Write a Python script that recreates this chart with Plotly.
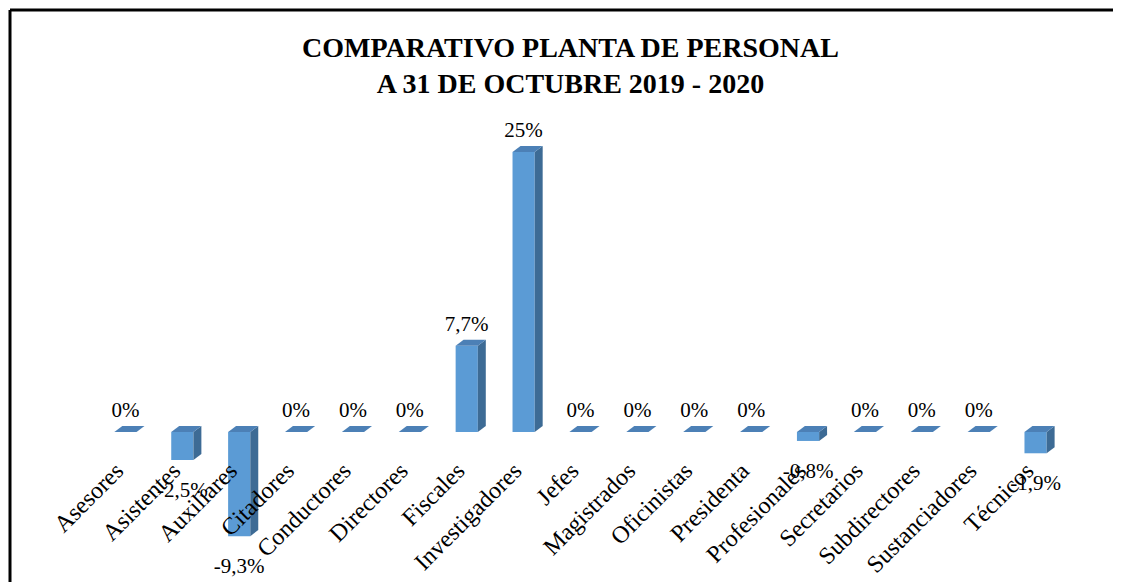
import plotly.graph_objects as go

categories = ["Asesores", "Asistentes", "Auxiliares", "Citadores", "Conductores",
              "Directores", "Fiscales", "Investigadores", "Jefes", "Magistrados",
              "Oficinistas", "Presidenta", "Profesionales", "Secretarios",
              "Subdirectores", "Sustanciadores", "Técnicos"]
values = [0, -2.5, -9.3, 0, 0, 0, 7.7, 25, 0, 0, 0, 0, -0.8, 0, 0, 0, -1.9]
value_labels = ["0%", "-2,5%", "-9,3%", "0%", "0%", "0%", "7,7%", "25%", "0%", "0%",
                "0%", "0%", "-0,8%", "0%", "0%", "0%", "-1,9%"]

title_text = "COMPARATIVO PLANTA DE PERSONAL<br>A 31 DE OCTUBRE 2019 - 2020"

FRONT = "#5B9BD5"
SIDE = "#3D6B95"
TOP = "#4C80B6"
W = 0.39     # bar width (category units)
DX = 0.14    # 3D depth offset, x
DY = 0.54    # 3D depth offset, y
PX_PER_UNIT = 11.2
SERIF = "Palatino Linotype, Book Antiqua, Palatino, Liberation Serif, serif"

FIG_W, FIG_H = 1113, 574
ML, MR, MT, MB = 89, 57, 122, 0
PW, PH = FIG_W - ML - MR, FIG_H - MT - MB
ZERO_Y = 424  # pixel row of the zero line inside the figure
YMAX = (ZERO_Y - MT) / PX_PER_UNIT
YMIN = -(FIG_H - MB - ZERO_Y) / PX_PER_UNIT

xs = list(range(len(categories)))
fig = go.Figure()

# front faces
fig.add_trace(go.Bar(x=xs, y=values, width=W, marker=dict(color=FRONT, line=dict(width=0)),
                     hoverinfo="skip", showlegend=False))

# side and top faces derived from data
for i, v in zip(xs, values):
    lo, hi = min(0, v), max(0, v)
    r = i + W / 2
    if hi > lo:
        fig.add_trace(go.Scatter(
            x=[r, r + DX, r + DX, r, r], y=[lo, lo + DY, hi + DY, hi, lo],
            fill="toself", fillcolor=SIDE, mode="lines", line=dict(width=0, color=SIDE),
            hoverinfo="skip", showlegend=False))
    fig.add_trace(go.Scatter(
        x=[i - W / 2, r, r + DX, i - W / 2 + DX, i - W / 2],
        y=[hi, hi, hi + DY, hi + DY, hi],
        fill="toself", fillcolor=TOP, mode="lines", line=dict(width=0, color=TOP),
        hoverinfo="skip", showlegend=False))

# data labels
pos_x = [i for i, v in zip(xs, values) if v >= 0]
pos_y = [v + DY + 0.3 for v in values if v >= 0]
pos_t = [t for t, v in zip(value_labels, values) if v >= 0]
neg_x = [i for i, v in zip(xs, values) if v < 0]
neg_y = [v - 1.9 for v in values if v < 0]
neg_t = [t for t, v in zip(value_labels, values) if v < 0]
fig.add_trace(go.Scatter(x=pos_x, y=pos_y, text=pos_t, mode="text", textposition="top center",
                         textfont=dict(family=SERIF, size=21, color="#000000"),
                         cliponaxis=False, hoverinfo="skip", showlegend=False))
fig.add_trace(go.Scatter(x=neg_x, y=neg_y, text=neg_t, mode="text", textposition="bottom center",
                         textfont=dict(family=SERIF, size=21, color="#000000"),
                         cliponaxis=False, hoverinfo="skip", showlegend=False))

fig.update_layout(
    width=FIG_W, height=FIG_H,
    margin=dict(l=ML, r=MR, t=MT, b=MB),
    paper_bgcolor="white", plot_bgcolor="white",
    title=dict(text="<b>" + title_text + "</b>", x=562.5 / FIG_W, xanchor="center",
               y=1 - 48.5 / FIG_H, yanchor="middle", yref="container",
               font=dict(family=SERIF, size=28, color="#000000")),
    bargap=0.6,
    xaxis=dict(range=[-0.5, 16.5], tickmode="array", tickvals=xs, ticktext=categories,
               tickangle=-45, anchor="free", position=(0 - YMIN) / (YMAX - YMIN),
               showgrid=False, zeroline=False, showline=False, ticks="",
               ticklabelstandoff=19, ticklabelshift=-9,
               tickfont=dict(family=SERIF, size=24, color="#000000"), fixedrange=True),
    yaxis=dict(range=[YMIN, YMAX], visible=False, fixedrange=True),
    shapes=[
        dict(type="line", xref="paper", yref="paper",
             x0=(2 - ML) / PW, x1=(FIG_W + 20 - ML) / PW,
             y0=(FIG_H - MB - 2) / PH, y1=(FIG_H - MB - 2) / PH,
             line=dict(color="#000000", width=3)),
        dict(type="line", xref="paper", yref="paper",
             x0=(2 - ML) / PW, x1=(2 - ML) / PW,
             y0=(FIG_H - MB - 2) / PH, y1=-60 / PH,
             line=dict(color="#000000", width=3)),
    ],
)

fig.write_html("out.html")
